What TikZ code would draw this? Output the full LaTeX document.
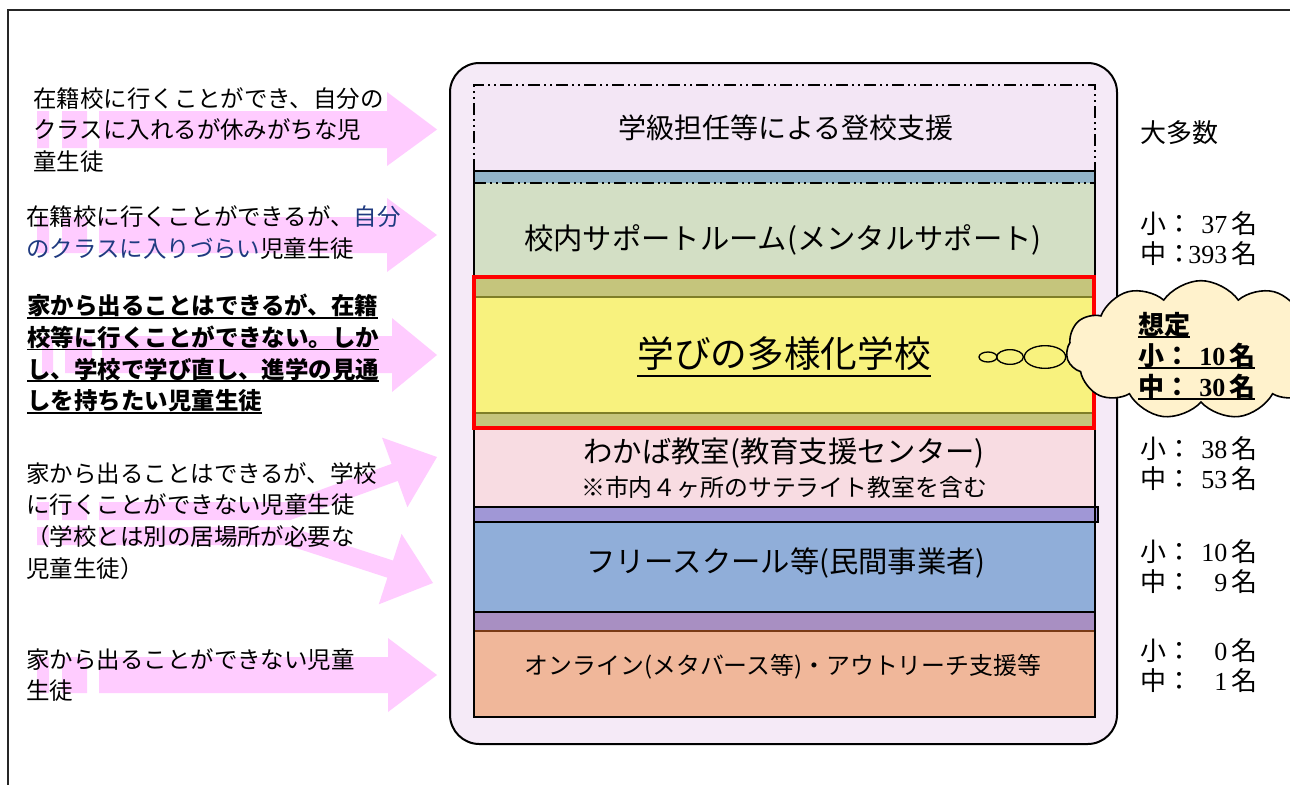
\documentclass[tikz,border=0pt]{standalone}
\usepackage{fontspec}
\setmainfont{Noto Sans CJK JP}
\newfontfamily\numfont{Liberation Serif}
\usetikzlibrary{shapes.symbols,shapes.geometric}
\definecolor{arrowpink}{HTML}{FFCCFF}
\definecolor{lav}{HTML}{F5EAF7}
\definecolor{lavtop}{HTML}{F3E6F5}
\definecolor{bluestrip}{HTML}{92B4C8}
\definecolor{sage}{HTML}{D3DFC5}
\definecolor{olive}{HTML}{C5C57C}
\definecolor{oliveline}{HTML}{7F7F28}
\definecolor{yell}{HTML}{F8F27E}
\definecolor{pinkband}{HTML}{F8DCE2}
\definecolor{purp}{HTML}{A097D6}
\definecolor{bluebg}{HTML}{90AED9}
\definecolor{purptwo}{HTML}{A88FC2}
\definecolor{brownline}{HTML}{7A3A16}
\definecolor{salmon}{HTML}{F0B79A}
\definecolor{cream}{HTML}{FFF2CC}
\definecolor{dblue}{HTML}{1F3A80}
\newcommand\myul[3]{\leavevmode\setbox0=\hbox{#3}\rlap{\rule[-#1]{\wd0}{#2}}\box0}
\newcommand\numpair[2]{小：\kern-0.1em\makebox[1.45em][r]{\numfont #1}\kern0.15em 名\\中：\kern-0.1em\makebox[1.45em][r]{\numfont #2}\kern0.15em 名}
\tikzset{
  lefttext/.style={anchor=west, align=left, inner sep=0pt, font=\fontsize{17.6pt}{23.8pt}\selectfont},
  midtext/.style={inner sep=0pt, font=\fontsize{22pt}{25pt}\selectfont},
  smalltext/.style={inner sep=0pt, font=\fontsize{17.9pt}{21pt}\selectfont},
  righttext/.style={anchor=west, align=left, inner sep=0pt, font=\fontsize{19.5pt}{22.5pt}\selectfont},
  pinkarrow/.style={fill=arrowpink},
  dashdotline/.style={line width=1.1pt, dash pattern=on 9pt off 3pt on 1.5pt off 3pt on 1.5pt off 3pt},
  bubble/.style={ellipse, draw, line width=1pt, inner sep=0pt},
}
\begin{document}
\begin{tikzpicture}[x=0.75pt, y=-0.75pt]
\useasboundingbox (0,0) rectangle (1290,785);
\clip (0,0) rectangle (1290,785);
\fill[white] (0,0) rectangle (1290,785);
% outer frame
\draw[line width=1.5pt, draw=black!85] (8,820) -- (8,10) -- (1320,10);

% ---------- pink arrows ----------
\fill[pinkarrow] (37,111) rectangle (49,148) (62,111) rectangle (87,148)
  (99,111) -- (387,111) -- (387,92) -- (437,129.5) -- (387,166) -- (387,148) -- (99,148) -- cycle;
\fill[pinkarrow] (37,217) rectangle (49,253) (62,217) rectangle (87,253)
  (99,217) -- (387,217) -- (387,198) -- (437,235) -- (387,272) -- (387,253) -- (99,253) -- cycle;
\fill[pinkarrow] (42,336) rectangle (53,373) (65,336) rectangle (92,373)
  (102,336) -- (392,336) -- (392,318) -- (437,355) -- (392,392) -- (392,373) -- (102,373) -- cycle;
\fill[pinkarrow] (37,502) rectangle (49,520) (62,502) rectangle (87,520)
  (99,502) -- (287,502) -- (391.6,463.9) -- (382,437.6) -- (437,457) -- (407.4,507.2) -- (397.8,480.9) -- (290.4,520) -- (99,520) -- cycle;
\fill[pinkarrow] (37,527) rectangle (49,545) (62,527) rectangle (87,545)
  (99,527) -- (290,527) -- (393,560.5) -- (401.6,533.9) -- (433,583) -- (378.8,604.3) -- (387.4,577.7) -- (286.8,545) -- (99,545) -- cycle;
\fill[pinkarrow] (37,657) rectangle (49,693) (62,657) rectangle (87,693)
  (99,657) -- (388,657) -- (388,638) -- (437,675) -- (388,712) -- (388,693) -- (99,693) -- cycle;

% ---------- left texts ----------
\node[lefttext] (t1) at (33,130) {在籍校に行くことができ、自分の\\クラスに入れるが休みがちな児\\童生徒};
\node[lefttext] (t2) at (26,232.5) {在籍校に行くことができるが、{\color{dblue}自分}\\{\color{dblue}のクラスに入りづらい}児童生徒};
\node[lefttext, font=\fontsize{17.6pt}{23.8pt}\selectfont\bfseries] (t3) at (27,354)
  {\myul{3pt}{1.4pt}{家から出ることはできるが、在籍}\\\myul{3pt}{1.4pt}{校等に行くことができない。しか}\\\myul{3pt}{1.4pt}{し、学校で学び直し、進学の見通}\\\myul{3pt}{1.4pt}{しを持ちたい児童生徒}};
\node[lefttext] (t4) at (26,521) {家から出ることはできるが、学校\\に行くことができない児童生徒\\（学校とは別の居場所が必要な\\児童生徒）};
\node[lefttext] (t6) at (26,675) {家から出ることができない児童\\生徒};

% ---------- central column ----------
\draw[line width=1.5pt, fill=lav, rounded corners=22pt] (450,63) rectangle (1117,744);
\fill[lavtop] (474,85) rectangle (1095,171);
\fill[bluestrip] (474,171) rectangle (1095,183);
\fill[sage] (474,183) rectangle (1095,277);
\fill[olive] (474,277) rectangle (1095,297);
\fill[yell] (474,297) rectangle (1095,413);
\fill[olive] (474,413) rectangle (1095,428);
\draw[oliveline, line width=1.2pt] (474,297) -- (1095,297) (474,413) -- (1095,413);
\fill[pinkband] (474,428) rectangle (1095,507);
\fill[purp] (474,507) rectangle (1098,522);
\fill[bluebg] (474,522) rectangle (1095,612);
\fill[purptwo] (474,612) rectangle (1095,632);
\fill[salmon] (474,632) rectangle (1095,717);
\draw[brownline, line width=1.6pt] (474,631) -- (1095,631);
% dash-dot top box
\draw[dashdotline] (474,171) -- (474,85) -- (1095,85) -- (1095,171);
\draw[dashdotline] (474,183) -- (1095,183);
% column outline and separators
\draw[line width=1.2pt] (474,171) -- (1095,171);
\draw[line width=1.2pt] (474,171) -- (474,717) -- (1095,717) -- (1095,171);
\draw[line width=1pt] (474,507) -- (1098,507) -- (1098,522) -- (474,522);
\draw[line width=1.2pt] (474,612) -- (1095,612);
\draw[red, line width=3pt] (474,277) rectangle (1094,428);

\node[inner sep=0pt, font=\fontsize{21pt}{25pt}\selectfont] (n1) at (786,128) {学級担任等による登校支援};
\node[midtext] (n2) at (783,240) {校内サポートルーム(メンタルサポート)};
\node[inner sep=0pt, font=\fontsize{27.5pt}{30pt}\selectfont] (n3) at (784,357) {\myul{7pt}{1.5pt}{学びの多様化学校}};
\node[midtext] (n4) at (784,453) {わかば教室(教育支援センター)};
\node[smalltext] (n4b) at (784,487) {※市内４ヶ所のサテライト教室を含む};
\node[midtext] (n5) at (786,563) {フリースクール等(民間事業者)};
\node[smalltext] (n6) at (783,667) {オンライン(メタバース等)・アウトリーチ支援等};

% ---------- thought bubble ----------
\node[cloud, cloud puffs=11, cloud puff arc=110, cloud ignores aspect, draw, line width=1.2pt, fill=cream,
      minimum width=202pt, minimum height=104pt] (cloud) at (1201,350) {};
\node[bubble, minimum width=13.5pt, minimum height=7.5pt] (b1) at (988,357) {};
\node[bubble, minimum width=20pt, minimum height=11pt] (b2) at (1010,357) {};
\node[bubble, minimum width=31pt, minimum height=17pt] (b3) at (1045,357) {};
\node[righttext, font=\fontsize{19.5pt}{23.2pt}\selectfont\bfseries] (ct) at (1138,356)
  {\myul{2.5pt}{1.3pt}{想定}\\\myul{2.5pt}{1.3pt}{小：\kern-0.1em\makebox[1.45em][r]{\numfont 10}\kern0.15em 名}\\\myul{2.5pt}{1.3pt}{中：\kern-0.1em\makebox[1.45em][r]{\numfont 30}\kern0.15em 名}};

% ---------- right column ----------
\node[righttext] (r0) at (1140,133) {大多数};
\node[righttext] (r1) at (1140,239) {\numpair{37}{393}};
\node[righttext] (r2) at (1140,463.5) {\numpair{38}{53}};
\node[righttext] (r3) at (1140,567) {\numpair{10}{9}};
\node[righttext] (r4) at (1140,666) {\numpair{0}{1}};
\end{tikzpicture}
\end{document}
